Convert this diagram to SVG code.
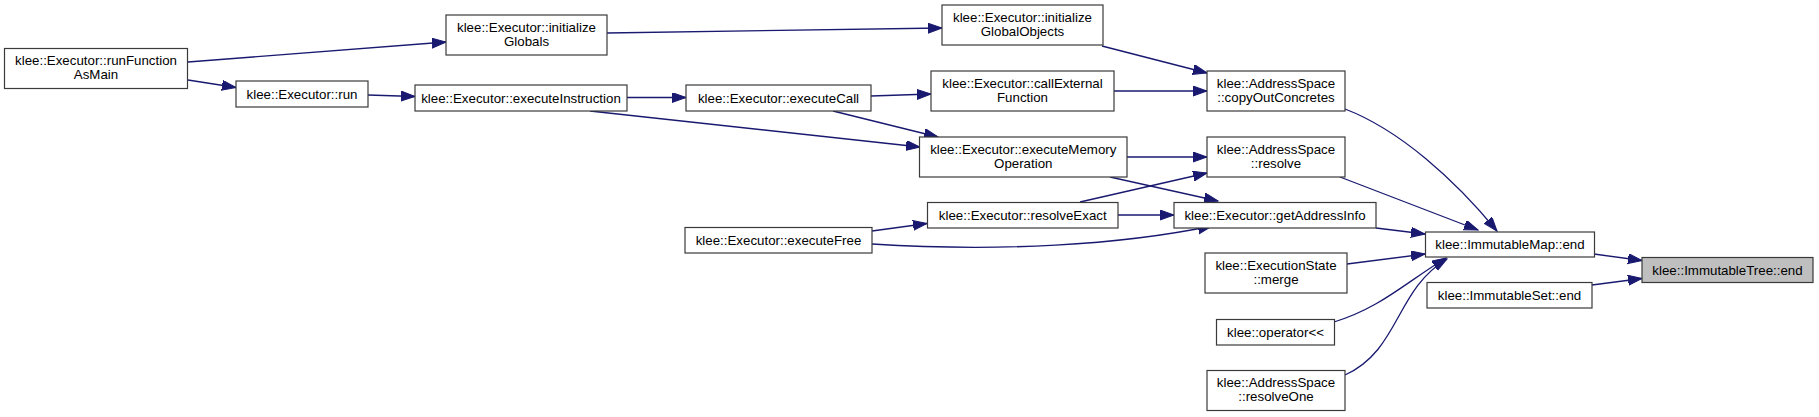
<svg xmlns="http://www.w3.org/2000/svg" width="1819" height="417" viewBox="0 0 1819 417">
<defs>
<style>
.n rect{fill:#ffffff;stroke:#3a3a3a;stroke-width:1.2}
.n.hl rect{fill:#bfbfbf}
.n text{font-family:"Liberation Sans",Arial,Helvetica,sans-serif;font-size:13.3px;fill:#000;text-anchor:middle}
#edges path{fill:none;stroke:#191970;stroke-width:1.3;marker-end:url(#ah)}
</style>
<marker id="ah" markerUnits="userSpaceOnUse" markerWidth="16" markerHeight="12" refX="14" refY="5" orient="auto" viewBox="0 0 16 12">
<path d="M0,0 L14,5 L0,10 z" fill="#191970" stroke="#191970" stroke-width="1"/>
</marker>
</defs>
<rect width="1819" height="417" fill="#ffffff"/>
<g id="edges">
<path d="M188,62 L446,42"/>
<path d="M188,80 L236,87.5"/>
<path d="M368,95 L415,96.5"/>
<path d="M607,33 L942,28"/>
<path d="M1102,46 L1207,73"/>
<path d="M627,97.5 L686,97.5"/>
<path d="M590,111 L920,147"/>
<path d="M871,96 L931,94"/>
<path d="M833,111 L938,137"/>
<path d="M1114,91 L1207,91"/>
<path d="M1345,109 C1400,130 1455,180 1497,231"/>
<path d="M1127,157 L1207,157"/>
<path d="M1110,177 L1218,201"/>
<path d="M1080,202 L1207,173"/>
<path d="M1118,215 L1174,215"/>
<path d="M1340,177 L1478,230"/>
<path d="M1376,228 L1425,234"/>
<path d="M872,231 L927,223.5"/>
<path d="M872,244 C1000,252 1120,245 1212,226"/>
<path d="M1347,264 L1425,254"/>
<path d="M1334,322 C1380,308 1405,283 1446,258"/>
<path d="M1345,375 C1400,350 1395,290 1447,259"/>
<path d="M1594,254 L1642,260.5"/>
<path d="M1592,285 L1642,278.5"/>
</g>
<g id="runFunctionAsMain" class="n"><rect x="4.5" y="48.5" width="183" height="40"/><text x="96" y="65">klee::Executor::runFunction</text><text x="96" y="79">AsMain</text></g>
<g id="initializeGlobals" class="n"><rect x="446" y="15" width="161" height="40"/><text x="526.5" y="31.5">klee::Executor::initialize</text><text x="526.5" y="45.5">Globals</text></g>
<g id="run" class="n"><rect x="236" y="81" width="132" height="26"/><text x="302" y="98.5">klee::Executor::run</text></g>
<g id="executeInstruction" class="n"><rect x="415" y="85" width="212" height="26"/><text x="521" y="102.5">klee::Executor::executeInstruction</text></g>
<g id="executeCall" class="n"><rect x="686" y="85" width="185" height="26"/><text x="778.5" y="102.5">klee::Executor::executeCall</text></g>
<g id="initializeGlobalObjects" class="n"><rect x="942" y="5" width="161" height="40"/><text x="1022.5" y="21.5">klee::Executor::initialize</text><text x="1022.5" y="35.5">GlobalObjects</text></g>
<g id="callExternalFunction" class="n"><rect x="931" y="71" width="183" height="40"/><text x="1022.5" y="87.5">klee::Executor::callExternal</text><text x="1022.5" y="101.5">Function</text></g>
<g id="executeMemoryOperation" class="n"><rect x="919.5" y="137" width="207.5" height="40"/><text x="1023.25" y="153.5">klee::Executor::executeMemory</text><text x="1023.25" y="167.5">Operation</text></g>
<g id="copyOutConcretes" class="n"><rect x="1207" y="71" width="138" height="40"/><text x="1276" y="87.5">klee::AddressSpace</text><text x="1276" y="101.5">::copyOutConcretes</text></g>
<g id="resolve" class="n"><rect x="1207" y="137" width="138" height="40"/><text x="1276" y="153.5">klee::AddressSpace</text><text x="1276" y="167.5">::resolve</text></g>
<g id="resolveExact" class="n"><rect x="927.5" y="202.5" width="190.5" height="25.5"/><text x="1022.75" y="220">klee::Executor::resolveExact</text></g>
<g id="getAddressInfo" class="n"><rect x="1174" y="202.5" width="202" height="25.5"/><text x="1275" y="220">klee::Executor::getAddressInfo</text></g>
<g id="executeFree" class="n"><rect x="685" y="227.5" width="187" height="25.5"/><text x="778.5" y="245">klee::Executor::executeFree</text></g>
<g id="merge" class="n"><rect x="1205" y="253" width="142" height="40"/><text x="1276" y="269.5">klee::ExecutionState</text><text x="1276" y="283.5">::merge</text></g>
<g id="operator" class="n"><rect x="1216.5" y="319.5" width="118" height="25.5"/><text x="1275.5" y="337">klee::operator&lt;&lt;</text></g>
<g id="resolveOne" class="n"><rect x="1207" y="370.5" width="138" height="40"/><text x="1276" y="387">klee::AddressSpace</text><text x="1276" y="401">::resolveOne</text></g>
<g id="ImmutableMapEnd" class="n"><rect x="1425.5" y="232" width="169" height="25"/><text x="1510" y="249.3">klee::ImmutableMap::end</text></g>
<g id="ImmutableSetEnd" class="n"><rect x="1427" y="282.5" width="165" height="25.5"/><text x="1509.5" y="300">klee::ImmutableSet::end</text></g>
<g id="ImmutableTreeEnd" class="n hl"><rect x="1642" y="257.5" width="171" height="25"/><text x="1727.5" y="274.8">klee::ImmutableTree::end</text></g>
</svg>
